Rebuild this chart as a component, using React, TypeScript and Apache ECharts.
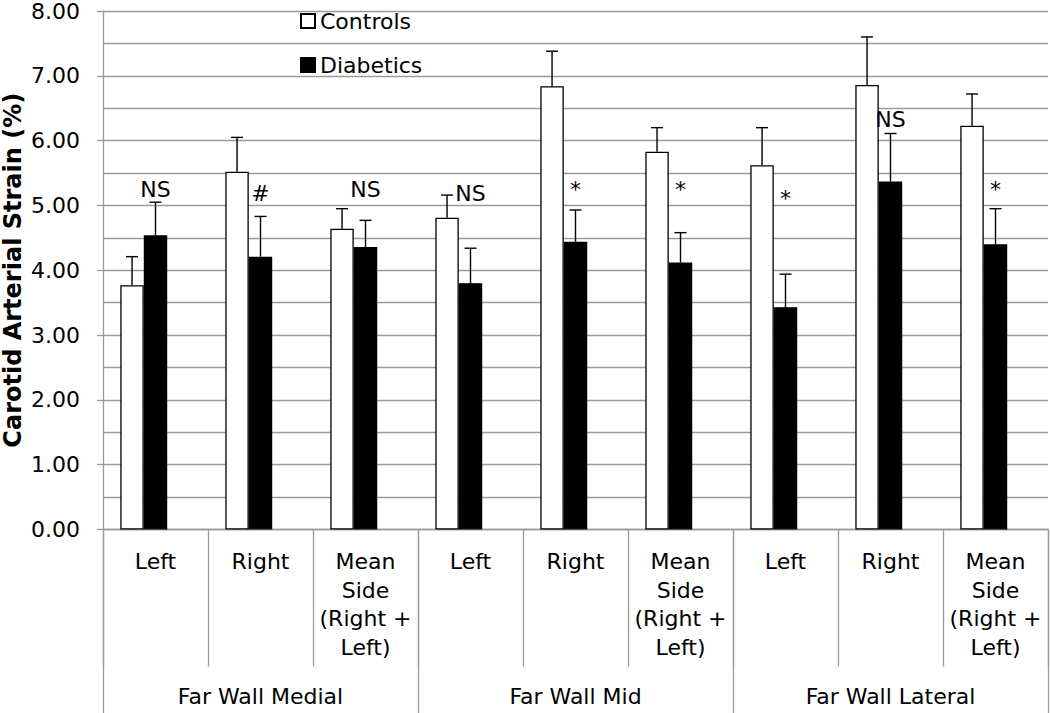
import React, { useEffect, useRef } from "react";
import * as echarts from "echarts";

const sideLabels = [
  "Left", "Right", "Mean\nSide\n(Right +\nLeft)",
  "Left", "Right", "Mean\nSide\n(Right +\nLeft)",
  "Left", "Right", "Mean\nSide\n(Right +\nLeft)",
];
const wallLabels = ["Far Wall Medial", "Far Wall Mid", "Far Wall Lateral"];
const controls = [3.77, 5.52, 4.64, 4.81, 6.84, 5.83, 5.62, 6.86, 6.23];
const controlsErr = [0.44, 0.53, 0.31, 0.35, 0.54, 0.37, 0.58, 0.74, 0.49];
const diabetics = [4.54, 4.21, 4.36, 3.80, 4.44, 4.12, 3.43, 5.37, 4.40];
const diabeticsErr = [0.51, 0.62, 0.41, 0.54, 0.49, 0.46, 0.51, 0.74, 0.55];
const sigText = ["NS", "#", "NS", "NS", "*", "*", "*", "NS", "*"];
const sigPos = [5.25, 5.19, 5.25, 5.18, 5.24, 5.24, 5.11, 6.33, 5.25];
const yTicks = ["0.00", "1.00", "2.00", "3.00", "4.00", "5.00", "6.00", "7.00", "8.00"];

const FONT = "DejaVu Sans";
const GRID = "#9a9a9a";
const CAT_GAP = 0.33;

function errSeries(name: string, vals: number[], errs: number[], slot: number) {
  return {
    type: "custom",
    name,
    silent: true,
    z: 5,
    encode: { x: 0, y: 1 },
    data: vals.map((v, i) => [i, v, errs[i]]),
    renderItem: (params: any, api: any) => {
      const idx = api.value(0);
      const v = api.value(1);
      const e = api.value(2);
      const band = api.size([1, 0])[0];
      const barW = (band * (1 - CAT_GAP)) / 3;
      const p0 = api.coord([idx, v]);
      const p1 = api.coord([idx, v + e]);
      const x = p0[0] + slot * barW;
      const style = { stroke: "#000", lineWidth: 1.4 };
      return {
        type: "group",
        children: [
          { type: "line", shape: { x1: x, y1: p0[1], x2: x, y2: p1[1] }, style },
          { type: "line", shape: { x1: x - 6, y1: p1[1], x2: x + 6, y2: p1[1] }, style },
        ],
      };
    },
  };
}

export default function App() {
  const ref = useRef<HTMLDivElement>(null);
  useEffect(() => {
    if (!ref.current) return;
    const chart = echarts.init(ref.current, undefined, { renderer: "svg" });
    chart.setOption({
      animation: false,
      backgroundColor: "#fff",
      textStyle: { fontFamily: FONT, color: "#000" },
      grid: { left: 103, right: 2, top: 11, bottom: 183.5, containLabel: false, outerBoundsMode: "none" },
      legend: {
        data: ["Controls", "Diabetics"],
        orient: "vertical",
        left: 300,
        top: 10,
        padding: 0,
        itemWidth: 14,
        itemHeight: 14,
        itemGap: 22,
        icon: "rect",
        textStyle: { fontFamily: FONT, fontSize: 22, color: "#000", lineHeight: 22 },
        selectedMode: false,
      },
      xAxis: [
        {
          type: "category",
          position: "bottom",
          data: sideLabels,
          axisLine: { show: true, lineStyle: { color: GRID, width: 1.3 } },
          axisTick: { show: true, interval: 0, length: 137, lineStyle: { color: GRID, width: 1.3 } },
          axisLabel: { interval: 0, margin: 18, fontFamily: FONT, fontSize: 22, lineHeight: 28.5, color: "#000", align: "center" },
        },
        {
          type: "category",
          position: "bottom",
          offset: 0,
          data: wallLabels,
          axisLine: { show: false },
          axisTick: { show: true, interval: 0, length: 184, lineStyle: { color: GRID, width: 1.3 } },
          axisLabel: { interval: 0, margin: 153, fontFamily: FONT, fontSize: 22, lineHeight: 28.5, color: "#000" },
        },
      ],
      yAxis: {
        type: "value",
        min: 0,
        max: 8,
        interval: 1,
        name: "Carotid Arterial Strain (%)",
        nameLocation: "middle",
        nameRotate: 90,
        nameGap: 78,
        nameMoveOverlap: false,
        nameTextStyle: { fontFamily: FONT, fontSize: 24, fontWeight: "bold", color: "#000", lineHeight: 24 },
        axisLine: { show: true, lineStyle: { color: GRID, width: 1.3 } },
        axisTick: { show: true, length: 6, inside: false, lineStyle: { color: GRID, width: 1.3 } },
        axisLabel: {
          margin: 23,
          fontFamily: FONT,
          fontSize: 22,
          lineHeight: 18,
          color: "#000",
          formatter: (v: number) => yTicks[Math.round(v)] ?? v.toFixed(2),
        },
        splitLine: { show: true, lineStyle: { color: GRID, width: 1.3 } },
        minorTick: { show: false, splitNumber: 2 },
        minorSplitLine: { show: true, lineStyle: { color: GRID, width: 1.3 } },
      },
      series: [
        {
          type: "bar",
          name: "Controls",
          data: controls,
          barGap: "0%",
          barCategoryGap: "33%",
          itemStyle: { color: "#fff", borderColor: "#000", borderWidth: 1.3 },
          z: 3,
        },
        {
          type: "bar",
          name: "Diabetics",
          data: diabetics,
          barGap: "0%",
          barCategoryGap: "33%",
          itemStyle: { color: "#000", borderColor: "#000", borderWidth: 1.3 },
          z: 3,
        },
        {
          type: "bar",
          name: "spacer",
          data: controls.map(() => null),
          barGap: "0%",
          barCategoryGap: "33%",
          itemStyle: { color: "transparent" },
          silent: true,
        },
        errSeries("Controls err", controls, controlsErr, -1),
        errSeries("Diabetics err", diabetics, diabeticsErr, 0),
        {
          type: "scatter",
          name: "sig",
          symbolSize: 0,
          silent: true,
          z: 6,
          itemStyle: { opacity: 1, color: "#000" },
          data: sigPos.map((y, i) => [i, y]),
          label: {
            show: true,
            position: "inside",
            fontFamily: FONT,
            fontSize: 22,
            color: "#000",
            opacity: 1,
            formatter: (p: any) => sigText[p.dataIndex],
          },
        },
      ],
    });
    return () => chart.dispose();
  }, []);
  return (
    <div
      ref={ref}
      style={{ position: "fixed", left: 0, top: 0, width: 1050, height: 713, background: "#fff" }}
    />
  );
}
